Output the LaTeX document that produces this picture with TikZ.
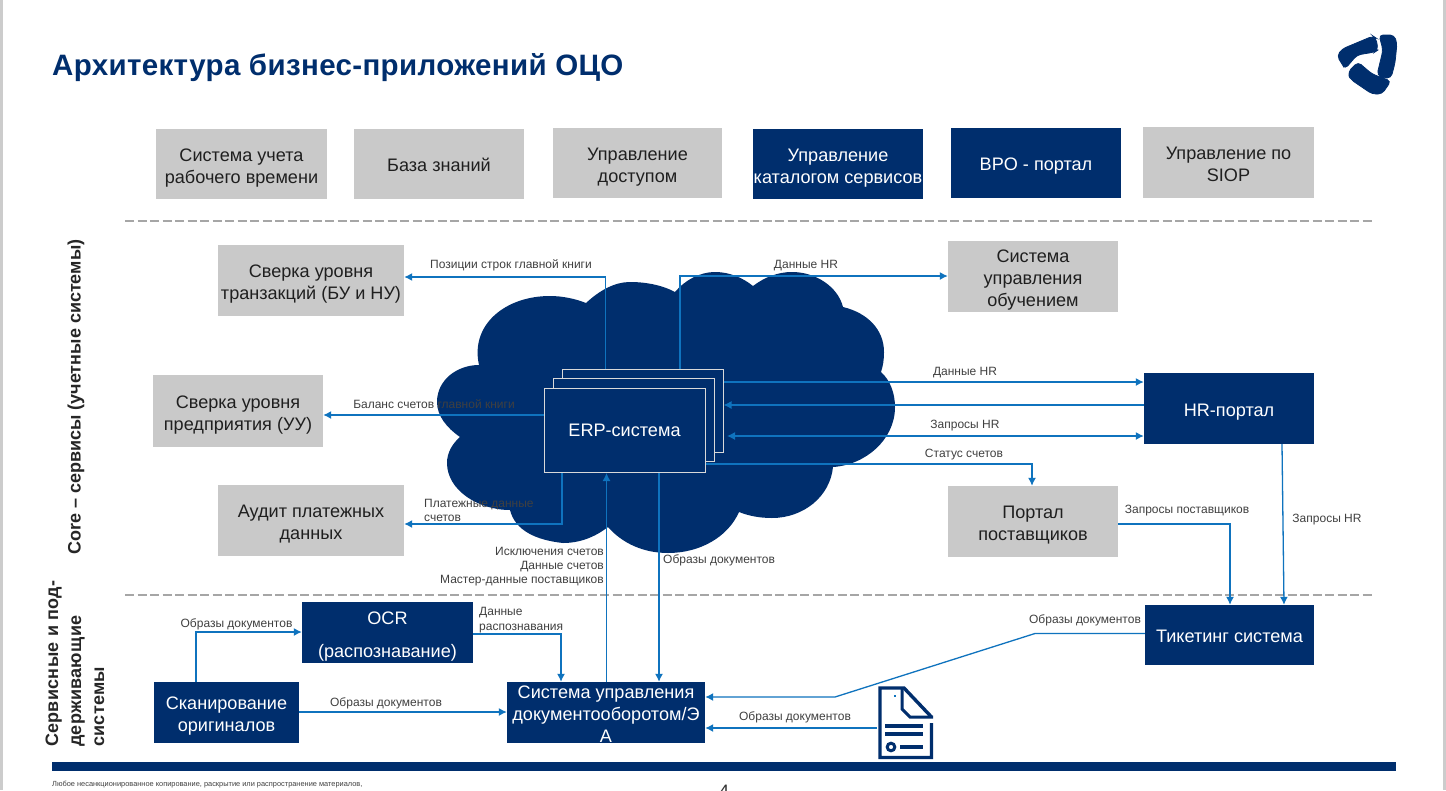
\documentclass[tikz,border=0pt]{standalone}
\usepackage{fontspec}
\setmainfont{Liberation Sans}
\newfontfamily\titlebold[LetterSpace=1.2]{Liberation Sans Bold}
\newfontfamily\sidebold{Liberation Sans Bold}
\newfontfamily\sidespaced[LetterSpace=1.5]{Liberation Sans Bold}
\usetikzlibrary{arrows.meta}
\definecolor{navy}{HTML}{002E6D}
\definecolor{boxgray}{HTML}{C9C9C9}
\definecolor{linkblue}{HTML}{0F73BE}
\definecolor{labelgray}{HTML}{404040}
\definecolor{dashgray}{HTML}{A6A6A6}
\tikzset{
  x=1pt,y=-1pt,
  boxbase/.style={inner sep=0pt,align=center,text depth=0pt,font=\fontsize{18.1}{22}\selectfont},
  oneline/.style={text height=15pt},
  twolines/.style={text height=38pt},
  threelines/.style={text height=59pt},
  grayb/.style={boxbase,fill=boxgray,text=black!88},
  navyb/.style={boxbase,fill=navy,text=white},
  erpb/.style={fill=navy,draw=white!85!black,line width=1pt,inner sep=0pt,minimum width=161pt,text=white,font=\fontsize{18.1}{22}\selectfont},
  link/.style={draw=linkblue,line width=1.3pt},
  arr/.style={link,-{Latex[length=8pt,width=8pt]}},
  lbl/.style={inner sep=0pt,yshift=-1.5pt,text=labelgray,font=\fontsize{12}{14.5}\selectfont},
  dashsep/.style={draw=dashgray,line width=1.1pt,dash pattern=on 9pt off 3.5pt},
  sidelbl/.style={inner sep=0pt,rotate=90,anchor=west,align=left,text=black!85},
  wh/.style 2 args={minimum width=#1pt,minimum height=#2pt},
  logopart/.style={fill=navy,draw=navy,line width=0.8pt,rounded corners=4pt}
}
\begin{document}
\begin{tikzpicture}
\clip (0,0) rectangle (1446,790);
\fill[white] (0,0) rectangle (1446,790);
\fill[black!20] (0,0) rectangle (3,790);
\fill[black!20] (1442.5,0) rectangle (1446,790);
\node[anchor=west,inner sep=0pt,text=navy,font=\titlebold\fontsize{29.5}{34}\selectfont] (title) at (52,67.5) {Архитектура бизнес-приложений ОЦО};
% logo
\path[logopart] (1337,56)--(1342,49)--(1373,36)--(1376,38)--(1378,50)--(1375,52)--(1357,55)--(1345,69)--(1342,64)--cycle;
\path[logopart] (1379,35)--(1394,35)--(1397,43)--(1395,63)--(1391,78)--(1383,78)--(1377,75)--(1383,50)--cycle;
\path[logopart] (1358,62)--(1372,74)--(1391,81)--(1382,94)--(1372,94)--(1350,79)--(1348,72)--cycle;
% top row
\node[grayb,twolines,wh={171}{70}] (t1) at (241.5,164) {Система учета\\рабочего времени};
\node[grayb,oneline,wh={170}{70}] (t2) at (439,164) {База знаний};
\node[grayb,twolines,wh={169}{70}] (t3) at (637.5,163) {Управление\\доступом};
\node[navyb,twolines,wh={170}{70}] (t4) at (838,164) {Управление\\каталогом сервисов};
\node[navyb,oneline,wh={170}{70}] (t5) at (1036,163) {BPO - портал};
\node[grayb,twolines,wh={171}{71}] (t6) at (1228.5,162.5) {Управление по\\SIOP};
% separators
\coordinate (d1a) at (125,221); \coordinate (d1b) at (1372,221);
\coordinate (d2a) at (125,595); \coordinate (d2b) at (1372,595);
\draw[dashsep] (d1a)--(d1b);
\draw[dashsep] (d2a)--(d2b);
% side labels
\node[sidelbl,font=\sidebold\fontsize{18}{22}\selectfont] (s1) at (76,555) {Core – сервисы (учетные системы)};
\node[sidelbl,font=\sidespaced\fontsize{18}{23}\selectfont] (s2) at (75,747) {Сервисные и под-\\держивающие\\системы};
% cloud
\fill[navy] (479,365)
 .. controls (470,325) and (505,296) .. (550,296) .. controls (563,296) and (576,299) .. (586,303)
 .. controls (600,290) and (615,282) .. (630,282) .. controls (648,282) and (664,286) .. (675,292)
 .. controls (685,280) and (700,272) .. (715,272) .. controls (730,272) and (743,278) .. (753,286)
 .. controls (765,277) and (778,272) .. (792,272) .. controls (816,272) and (838,287) .. (843,307)
 .. controls (868,313) and (884,330) .. (884,352) .. controls (884,360) and (883,366) .. (881,372)
 .. controls (890,380) and (895,393) .. (895,407) .. controls (895,440) and (865,465) .. (833,467)
 .. controls (830,497) and (803,518) .. (772,518) .. controls (760,518) and (749,516) .. (739,512)
 .. controls (728,537) and (700,553) .. (668,553) .. controls (643,553) and (622,543) .. (608,527)
 .. controls (595,537) and (580,543) .. (563,543) .. controls (535,540) and (515,530) .. (510,510)
 .. controls (478,510) and (447,490) .. (447,463) .. controls (447,453) and (452,444) .. (460,437)
 .. controls (447,428) and (437,416) .. (437,402) .. controls (437,380) and (457,365) .. (479,365) -- cycle;
% ERP stack
\node[erpb,minimum height=83pt] (erp3) at (642.5,410.5) {};
\node[erpb,minimum height=83pt] (erp2) at (633.5,419.5) {};
\node[erpb,minimum height=84pt] (erp) at (624.5,430.5) {ERP-система};
% boxes
\node[grayb,twolines,wh={186}{71}] (rec) at (311,280.5) {Сверка уровня\\транзакций (БУ и НУ)};
\node[grayb,threelines,wh={170}{71}] (lms) at (1033,276.5) {Система\\управления\\обучением};
\node[grayb,twolines,wh={170}{72}] (ent) at (238,411) {Сверка уровня\\предприятия (УУ)};
\node[grayb,twolines,wh={186}{71}] (aud) at (311,520.5) {Аудит платежных\\данных};
\node[navyb,oneline,wh={170}{71}] (hr) at (1229,408.5) {HR-портал};
\node[grayb,twolines,wh={170}{71}] (ven) at (1033,521.5) {Портал\\поставщиков};
\node[navyb,oneline,wh={169}{60}] (tic) at (1229.5,635) {Тикетинг система};
\node[navyb,text height=49pt,wh={171}{61}] (ocr) at (387.5,632.5) {OCR\\[11pt](распознавание)};
\node[navyb,twolines,wh={145}{61}] (scan) at (226.5,712.5) {Сканирование\\оригиналов};
\node[navyb,threelines,wh={198}{61}] (sud) at (606,712.5) {Система управления\\документооборотом/Э\\А};
% connectors
\draw[arr] (erp3.north -| 605.5,0) |- (rec.east |- 0,277);
\draw[arr] (erp3.north -| 680,0) |- (lms.west |- 0,276);
\draw[arr] (erp.west |- 0,415) -- (ent.east |- 0,415);
\draw[arr] (erp.south -| 562,0) |- (aud.east |- 0,524);
\draw[arr] (sud.north -| 606.5,0) -- (erp.south -| 606.5,0);
\draw[arr] (erp.south -| 659,0) -- (sud.north -| 659,0);
\draw[arr] (erp3.east |- 0,382) -- (hr.west |- 0,382);
\draw[arr] (hr.west |- 0,405) -- (erp3.east |- 0,405);
\draw[link,{Latex[length=8pt,width=8pt]}-{Latex[length=8pt,width=8pt]}] (727,436) -- (hr.west |- 0,436);
\draw[arr] (erp.east |- 0,464) -| (ven.north -| 1032,0);
\draw[arr] (ven.east |- 0,524) -| (tic.north -| 1230,0);
\draw[arr] (hr.south -| 1282,0) -- (tic.north -| 1284,0);
\draw[arr] (tic.west |- 0,633.5) -- (1035,633.5) -- (835,697) -- (sud.east |- 0,697);
\coordinate (iconw) at (877,728);
\draw[arr] (iconw) -- (sud.east |- 0,728);
\draw[arr] (scan.east |- 0,712) -- (sud.west |- 0,712);
\draw[arr] (scan.north -| 196,0) |- (ocr.west |- 0,632);
\draw[arr] (ocr.east |- 0,634) -| (sud.north -| 561,0);
% document icon
\fill[white] (878,686) rectangle (934,760);
\begin{scope}[draw=navy,line width=3.4pt]
\draw (931.5,717) -- (904,688) -- (880,688) -- (880,757.5) -- (931.5,757.5) -- (931.5,723);
\draw[line width=3pt] (902,688) -- (902,709) -- (910,717) -- (933,717);
\draw (885,726) -- (923,726);
\draw (885,734) -- (923,734);
\draw[line width=3pt] (891,747) circle (3.8);
\draw (900,747) -- (923,747);
\end{scope}
\fill[linkblue] (894,695) rectangle (896,697);
% labels
\node[lbl] (l1) at (511,264) {Позиции строк главной книги};
\node[lbl] (l2) at (806,264) {Данные HR};
\node[lbl] (l3) at (965,371) {Данные HR};
\node[lbl] (l4) at (965,424) {Запросы HR};
\node[lbl] (l5) at (964,453) {Статус счетов};
\node[lbl] (l6) at (434,403) {Баланс счетов главной книги};
\node[lbl,anchor=west,align=left] (l7) at (424,509) {Платежные данные\\счетов};
\node[lbl] (l8) at (1187,509) {Запросы поставщиков};
\node[lbl] (l9) at (1327,518) {Запросы HR};
\node[lbl,anchor=east,align=right,font=\fontsize{12}{14}\selectfont] (l10) at (604,565) {Исключения счетов\\Данные счетов\\Мастер-данные поставщиков};
\node[lbl,anchor=west] (l11) at (663,559) {Образы документов};
\node[lbl] (l12) at (236.5,623) {Образы документов};
\node[lbl,anchor=west,align=left] (l13) at (479,618.5) {Данные\\распознавания};
\node[lbl] (l14) at (386,702) {Образы документов};
\node[lbl] (l15) at (1085,619) {Образы документов};
\node[lbl] (l16) at (795,716) {Образы документов};
% footer
\fill[navy] (52,762) rectangle (1396,771);
\node[anchor=west,inner sep=0pt,text=labelgray,font=\fontsize{7.4}{8}\selectfont] (foot) at (52,785) {Любое несанкционированное копирование, раскрытие или распространение материалов,};
\node[inner sep=0pt,anchor=base,text=black!80,font=\fontsize{18}{20}\selectfont] (pg) at (724,797) {4};
\end{tikzpicture}
\end{document}
